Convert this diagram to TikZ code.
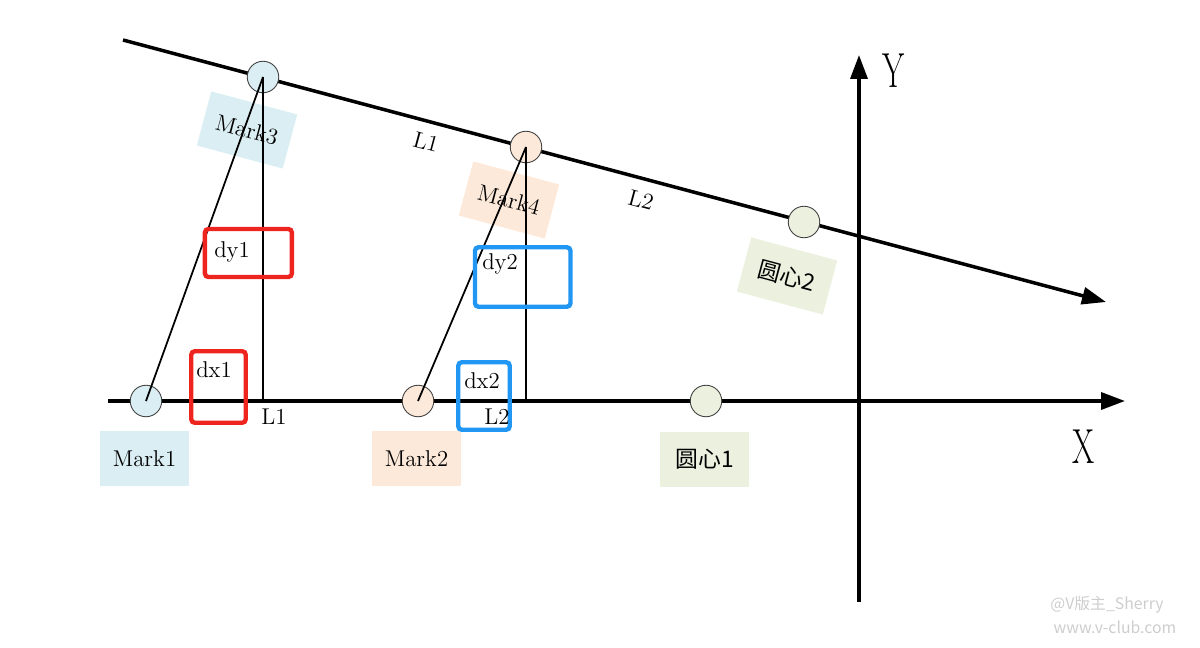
\documentclass[tikz,border=0pt]{standalone}
\usepackage{fontspec}
\newfontfamily\cjk{Noto Sans CJK SC}
\usetikzlibrary{arrows.meta}
\definecolor{markblue}{RGB}{218,238,243}
\definecolor{markpeach}{RGB}{253,233,217}
\definecolor{markgreen}{RGB}{235,241,222}
\definecolor{boxred}{RGB}{238,36,30}
\definecolor{boxblue}{RGB}{33,150,243}
\definecolor{wmgray}{RGB}{205,205,205}
\begin{document}
\begin{tikzpicture}[x=0.02cm,y=-0.02cm,
  axis/.style={line width=2pt,-{Triangle[length=0.48cm,width=0.34cm]}},
  markpt/.style={circle,draw=black!75,line width=0.5pt,minimum size=0.63cm,inner sep=0pt},
  marktag/.style={minimum width=1.78cm,minimum height=1.12cm,inner sep=0pt,font=\fontsize{13}{15}\selectfont},
  arm/.style={line width=1pt},
  redbox/.style={draw=boxred,line width=2.5pt,rounded corners=2pt,inner sep=0pt},
  bluebox/.style={draw=boxblue,line width=2.5pt,rounded corners=2pt,inner sep=0pt},
  lbl/.style={font=\fontsize{13}{15}\selectfont,inner sep=0pt}]
\useasboundingbox (0,0) rectangle (1200,648);

\coordinate (xs) at (108,401);
\coordinate (xe) at (1125,401);
\coordinate (ys) at (859,602);
\coordinate (ye) at (859,55);
\coordinate (ls) at (123,40);
\coordinate (le) at (1106,302);
\draw[axis] (xs) -- (xe);
\draw[axis] (ys) -- (ye);
\draw[axis] (ls) -- (le);

\node[marktag,fill=markblue] (t1) at (144.5,458.5) {Mark1};
\node[marktag,fill=markpeach] (t2) at (416.5,458.5) {Mark2};
\node[marktag,fill=markgreen] (tc1) at (704.5,459.5) {\cjk 圆心1};
\node[marktag,fill=markblue,rotate=-15] (t3) at (247,130) {Mark3};
\node[marktag,fill=markpeach,rotate=-15] (t4) at (509,200) {Mark4};
\node[marktag,fill=markgreen,rotate=-15] (tc2) at (787,276) {\cjk 圆心2};

\node[markpt,fill=markblue] (m1) at (146,401) {};
\node[markpt,fill=markpeach] (m2) at (418,401) {};
\node[markpt,fill=markgreen] (c1) at (706,401) {};
\node[markpt,fill=markblue] (m3) at (263,77) {};
\node[markpt,fill=markpeach] (m4) at (526,147) {};
\node[markpt,fill=markgreen] (c2) at (804,222) {};

\coordinate (f1) at (m3 |- xs);
\coordinate (f2) at (m4 |- xs);
\draw[arm] (m1.center) -- (m3.center);
\draw[arm] (m3.center) -- (f1);
\draw[arm] (m2.center) -- (m4.center);
\draw[arm] (m4.center) -- (f2);

\node[redbox,minimum width=1.74cm,minimum height=0.96cm] (bdy1) at (248.4,253) {};
\node[redbox,minimum width=1.09cm,minimum height=1.43cm] (bdx1) at (218.5,387) {};
\node[bluebox,minimum width=1.91cm,minimum height=1.19cm] (bdy2) at (522.7,277) {};
\node[bluebox,minimum width=1.03cm,minimum height=1.35cm] (bdx2) at (484,396) {};
\node[lbl] (ty1) at (232,252) {dy1};
\node[lbl] (tx1) at (214,370) {dx1};
\node[lbl] (ty2) at (500,264) {dy2};
\node[lbl] (tx2) at (482,381) {dx2};

\node[lbl] (l1) at (274,417) {L1};
\node[lbl] (l2) at (497,417) {L2};
\node[lbl,rotate=-15] (s1) at (426,142) {L1};
\node[lbl,rotate=-15] (s2) at (641,200) {L2};

\node[font=\fontsize{28}{30}\selectfont,xscale=0.65,inner sep=0pt] (ylab) at (894,71) {Y};
\node[font=\fontsize{28}{30}\selectfont,xscale=0.65,inner sep=0pt] (xlab) at (1084,447) {X};

\node[font=\cjk\fontsize{9}{10}\selectfont,text=wmgray,inner sep=0pt] (wm1) at (1107,605) {@V版主\_Sherry};
\node[font=\cjk\fontsize{9}{10}\selectfont,text=wmgray,inner sep=0pt] (wm2) at (1115,627) {www.v-club.com};
\end{tikzpicture}
\end{document}
